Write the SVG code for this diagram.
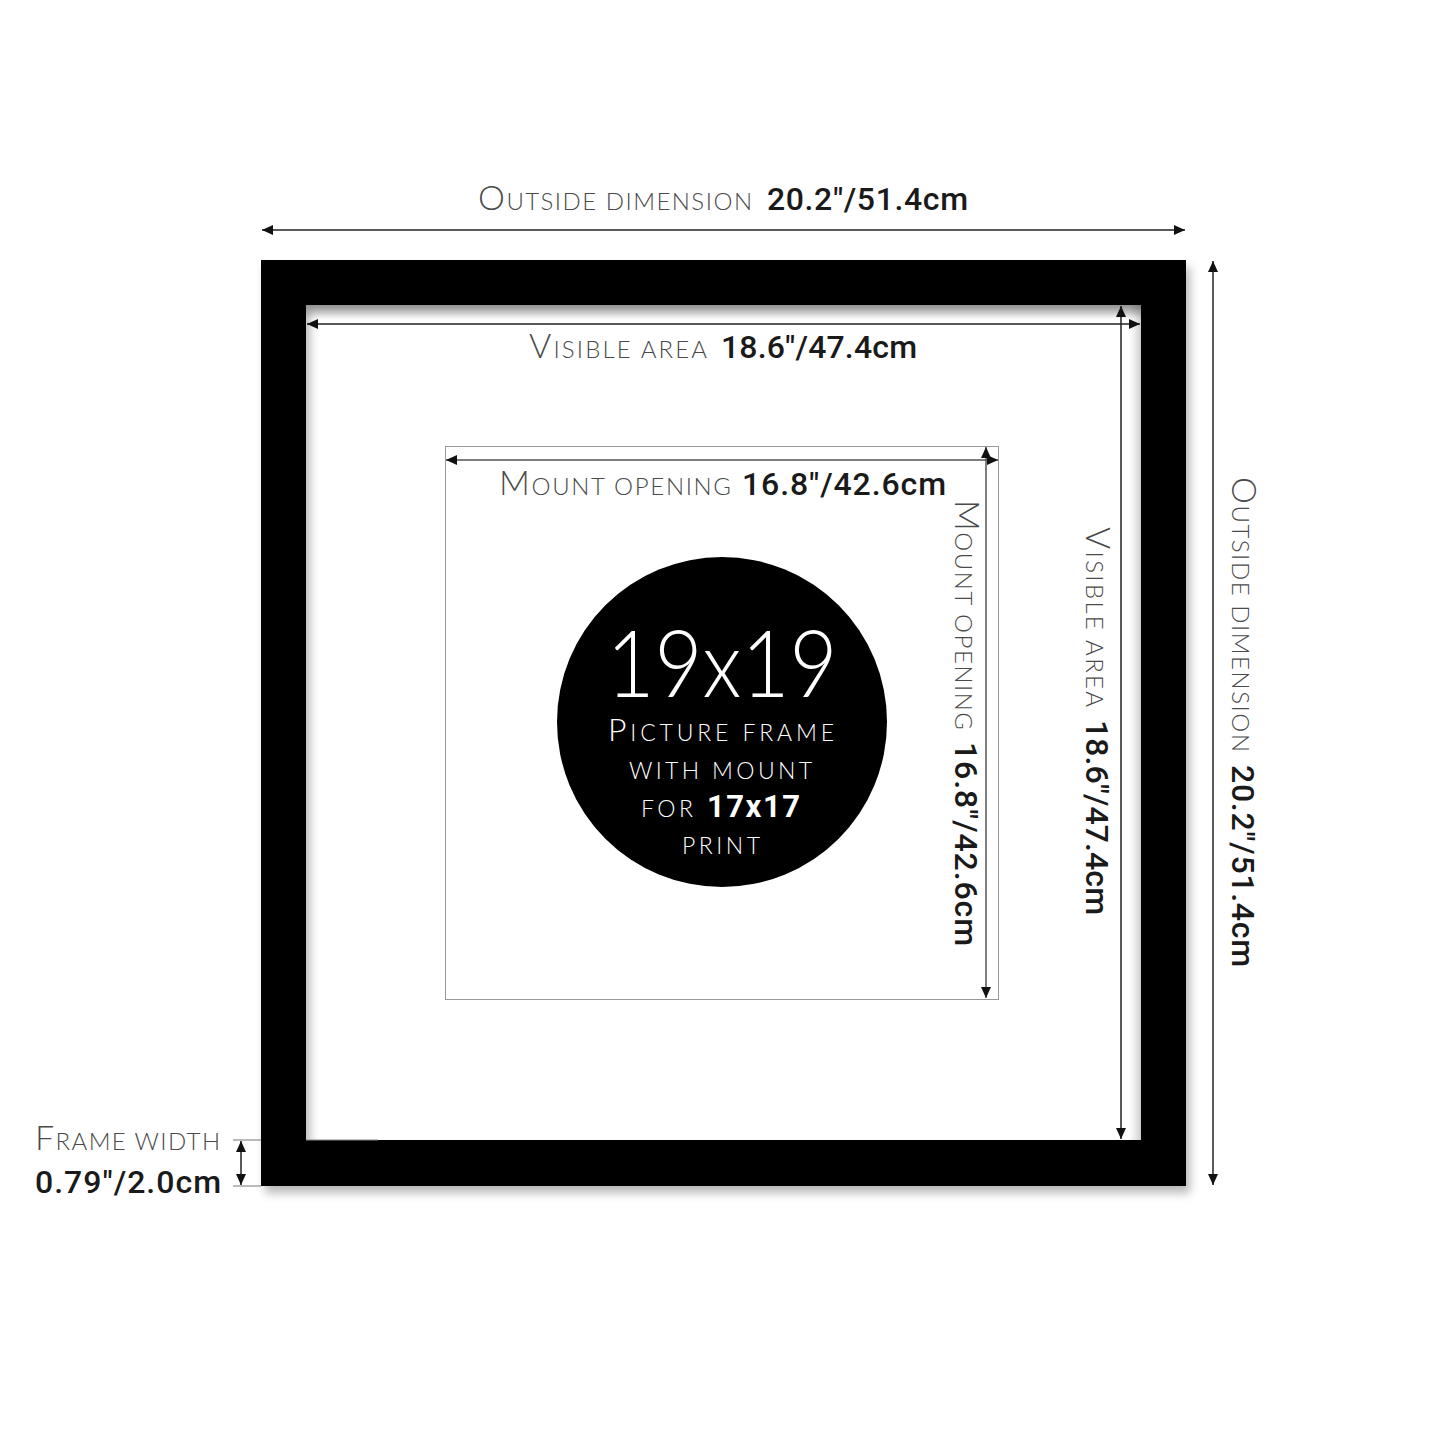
<svg xmlns="http://www.w3.org/2000/svg" width="1445" height="1445" viewBox="0 0 1445 1445">
<style>
.lbl{font-family:Lato,"Open Sans","Liberation Sans",sans-serif;font-weight:300;fill:#4a4a4a}
.cap{font-size:34px}
.sc{font-size:24px}
.num{font-family:Roboto,"Liberation Sans",sans-serif;font-weight:500;font-size:32px;fill:#1a1a1a}
.wl{font-family:Lato,"Open Sans","Liberation Sans",sans-serif;font-weight:300;fill:#fff}
.wb{font-family:Roboto,"Liberation Sans",sans-serif;font-weight:700;fill:#fff}
.dim{stroke:#222;stroke-width:1.5;fill:none;marker-start:url(#ah);marker-end:url(#ah)}
.dimg{stroke:#555;stroke-width:1.5;fill:none;marker-start:url(#ah);marker-end:url(#ah)}
</style>
<defs>
<marker id="ah" markerUnits="userSpaceOnUse" markerWidth="12" markerHeight="10" refX="11" refY="5" orient="auto-start-reverse" viewBox="0 0 12 10">
<path d="M0,0 L11,5 L0,10 Z" fill="#111"/>
</marker>
<filter id="sh" x="-5%" y="-5%" width="115%" height="115%">
<feDropShadow dx="4" dy="7" stdDeviation="5" flood-color="#000" flood-opacity="0.28"/>
</filter>
<linearGradient id="gt" x1="0" y1="0" x2="0" y2="1">
<stop offset="0" stop-color="#000" stop-opacity="0.22"/>
<stop offset="1" stop-color="#000" stop-opacity="0"/>
</linearGradient>
<linearGradient id="gr" x1="1" y1="0" x2="0" y2="0">
<stop offset="0" stop-color="#000" stop-opacity="0.16"/>
<stop offset="1" stop-color="#000" stop-opacity="0"/>
</linearGradient>
</defs>
<rect width="1445" height="1445" fill="#fff"/>

<g id="frame">
<path d="M261,260 H1186 V1186 H261 Z M306,305 V1140 H1141 V305 Z" fill="#000" fill-rule="evenodd" filter="url(#sh)"/>
<rect x="306" y="305" width="835" height="14" fill="url(#gt)"/>
<rect x="1129" y="305" width="12" height="835" fill="url(#gr)"/>
<line x1="306" y1="1140" x2="378" y2="1140" stroke="#888" stroke-width="1"/>
</g>

<g id="mount">
<rect x="445.5" y="446.5" width="553" height="553" fill="none" stroke="#999" stroke-width="1"/>
</g>

<g id="badge">
<circle cx="722" cy="722" r="165" fill="#000"/>
<text class="wl" x="722" y="697" text-anchor="middle" font-size="93" textLength="231" lengthAdjust="spacingAndGlyphs">19x19</text>
<text class="wl" x="608" y="741" textLength="226"><tspan font-size="32">P</tspan><tspan font-size="23">ICTURE FRAME</tspan></text>
<text class="wl" x="629" y="779" font-size="23" textLength="183">WITH MOUNT</text>
<text class="wl" x="641" y="817" font-size="23" textLength="52">FOR</text>
<text class="wb" x="707" y="817" font-size="31" textLength="93">17x17</text>
<text class="wl" x="682" y="854" font-size="23" textLength="78">PRINT</text>
</g>

<g id="connectors">
<line class="dim" x1="262" y1="230" x2="1185" y2="230"/>
<line class="dim" x1="307" y1="324" x2="1140" y2="324"/>
<line class="dim" x1="1121" y1="306" x2="1121" y2="1139"/>
<line class="dim" x1="1213" y1="261" x2="1213" y2="1185"/>
<line class="dimg" x1="446" y1="460" x2="998" y2="460"/>
<line class="dimg" x1="986" y1="447" x2="986" y2="998"/>
<line x1="233" y1="1140" x2="261" y2="1140" stroke="#777" stroke-width="1"/>
<line x1="233" y1="1186" x2="261" y2="1186" stroke="#777" stroke-width="1"/>
<line class="dim" x1="241" y1="1141" x2="241" y2="1185"/>
</g>

<g id="labels">
<text class="lbl" x="478" y="210" textLength="274"><tspan class="cap">O</tspan><tspan class="sc">UTSIDE DIMENSION</tspan></text>
<text class="num" x="767" y="210" textLength="201">20.2″/51.4cm</text>

<text class="lbl" x="529" y="358" textLength="178"><tspan class="cap">V</tspan><tspan class="sc">ISIBLE AREA</tspan></text>
<text class="num" x="721" y="358" textLength="196">18.6″/47.4cm</text>

<text class="lbl" x="499" y="495" textLength="232"><tspan class="cap">M</tspan><tspan class="sc">OUNT OPENING</tspan></text>
<text class="num" x="742" y="495" textLength="204">16.8″/42.6cm</text>

<g transform="translate(955,500) rotate(90)">
<text class="lbl" x="0" y="0" textLength="230"><tspan class="cap">M</tspan><tspan class="sc">OUNT OPENING</tspan></text>
<text class="num" x="242" y="0" textLength="204">16.8″/42.6cm</text>
</g>

<g transform="translate(1086,527) rotate(90)">
<text class="lbl" x="0" y="0" textLength="180"><tspan class="cap">V</tspan><tspan class="sc">ISIBLE AREA</tspan></text>
<text class="num" x="193" y="0" textLength="195">18.6″/47.4cm</text>
</g>

<g transform="translate(1232,477) rotate(90)">
<text class="lbl" x="0" y="0" textLength="275"><tspan class="cap">O</tspan><tspan class="sc">UTSIDE DIMENSION</tspan></text>
<text class="num" x="288" y="0" textLength="202">20.2″/51.4cm</text>
</g>

<text class="lbl" x="35" y="1150" textLength="185"><tspan class="cap">F</tspan><tspan class="sc">RAME WIDTH</tspan></text>
<text class="num" x="35" y="1193" textLength="186">0.79″/2.0cm</text>
</g>
</svg>
